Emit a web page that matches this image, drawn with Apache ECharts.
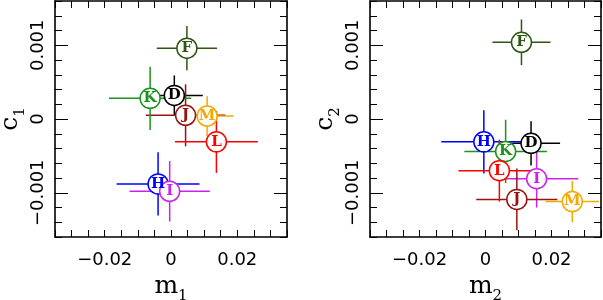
<!DOCTYPE html>
<html>
<head>
<meta charset="utf-8">
<script src="https://cdn.jsdelivr.net/npm/echarts@6/dist/echarts.min.js"></script>
<style>html,body{margin:0;padding:0;background:#fff;}#c{width:603px;height:300px;}</style>
</head>
<body>
<div id="c"></div>
<script>
// ---- data ----
const letters = ['D', 'F', 'H', 'I', 'J', 'K', 'L', 'M'];
// left panel: m1, c1 with errors
const m1 = [0.0010, 0.0048, -0.0039, -0.0004, 0.0044, -0.0063, 0.0137, 0.0109];
const c1 = [0.00032, 0.00096, -0.00088, -0.00098, 0.00005, 0.00028, -0.00031, 0.00004];
const m1Err = [0.0086, 0.0091, 0.0125, 0.0121, 0.0120, 0.0124, 0.0125, 0.0080];
const c1Err = [0.00027, 0.00030, 0.00043, 0.00041, 0.00042, 0.00043, 0.00042, 0.00027];
// right panel: m2, c2 with errors
const m2 = [0.0138, 0.0109, -0.0005, 0.0155, 0.0095, 0.0061, 0.0042, 0.0263];
const c2 = [-0.00033, 0.00104, -0.00031, -0.00081, -0.00109, -0.00044, -0.00070, -0.00112];
const m2Err = [0.0088, 0.0088, 0.0129, 0.0126, 0.0123, 0.0125, 0.0124, 0.0081];
const c2Err = [0.00030, 0.00031, 0.00043, 0.00039, 0.00042, 0.00043, 0.00042, 0.00028];
// tick labels
const xTickValues = [-0.02, 0, 0.02];
const xTickLabels = ['\u22120.02', '0', '0.02'];
const yTickValues = [-0.001, 0, 0.001];
const yTickLabels = ['\u22120.001', '0', '0.001'];
// axis titles (main letter + subscript)
const xTitles = [['m', '1'], ['m', '2']];
const yTitles = [['c', '1'], ['c', '2']];

// ---- styles ----
const colors = ['#000000', '#2e5612', '#0000ff', '#cc22ee', '#9b1111', '#1a931a', '#ff0000', '#f5a800'];
const X_MIN = -0.035, X_MAX = 0.035, Y_MIN = -0.0016, Y_MAX = 0.0016;
const LINE = {lineStyle: {color: '#000', width: 1.6}, onZero: false};
const TICK = {inside: true, length: 7, lineStyle: {color: '#000', width: 1}};
const tickFont = {fontFamily: 'DejaVu Sans', fontSize: 18, color: '#000'};
const nameFont = {
  color: '#000',
  rich: {
    a: {fontFamily: 'DejaVu Serif', fontSize: 25, lineHeight: 25, verticalAlign: 'bottom', padding: [0, 0, 5, 0], color: '#000'},
    b: {fontFamily: 'DejaVu Serif', fontSize: 15, lineHeight: 15, verticalAlign: 'bottom', color: '#000'}
  }
};

const grids = [
  {left: 55, top: 1, width: 232, height: 236, containLabel: false, outerBoundsMode: 'none'},
  {left: 370, top: 1, width: 231, height: 236, containLabel: false, outerBoundsMode: 'none'}
];

const xAxes = [], yAxes = [];
function addAxes(g, xName, yName) {
  const base = {gridIndex: g, type: 'value', min: X_MIN, max: X_MAX, splitLine: {show: false}};
  xAxes.push(Object.assign({}, base, {position: 'bottom', interval: 0.005, axisLine: LINE, axisTick: TICK, axisLabel: {show: false}}));
  xAxes.push(Object.assign({}, base, {position: 'top', interval: 0.005, axisLine: LINE, axisTick: TICK, axisLabel: {show: false}}));
  xAxes.push(Object.assign({}, base, {
    position: 'bottom', axisLine: {show: false, onZero: false}, axisTick: {show: false},
    axisLabel: Object.assign({customValues: xTickValues, margin: 14,
      formatter: v => xTickLabels[xTickValues.findIndex(t => Math.abs(t - v) < 1e-9)]}, tickFont),
    name: '{a|' + xName[0] + '}{b|' + xName[1] + '}', nameLocation: 'middle', nameGap: 30, nameTextStyle: nameFont
  }));
  const ybase = {gridIndex: g, type: 'value', min: Y_MIN, max: Y_MAX, splitLine: {show: false}};
  yAxes.push(Object.assign({}, ybase, {position: 'left', interval: 0.0002, axisLine: LINE, axisTick: TICK, axisLabel: {show: false}}));
  yAxes.push(Object.assign({}, ybase, {position: 'right', interval: 0.0002, axisLine: LINE, axisTick: TICK, axisLabel: {show: false}}));
  yAxes.push(Object.assign({}, ybase, {
    position: 'left', axisLine: {show: false, onZero: false},
    axisTick: {inside: true, length: 13, customValues: yTickValues, lineStyle: {color: '#000', width: 1}},
    axisLabel: Object.assign({customValues: yTickValues, rotate: 90, margin: 8,
      formatter: v => yTickLabels[yTickValues.findIndex(t => Math.abs(t - v) < 1e-12)]}, tickFont),
    name: '{a|' + yName[0] + '}{b|' + yName[1] + '}', nameLocation: 'middle', nameRotate: 90, nameGap: 26, nameTextStyle: nameFont
  }));
  yAxes.push(Object.assign({}, ybase, {
    position: 'right', axisLine: {show: false, onZero: false},
    axisTick: {inside: true, length: 13, customValues: yTickValues, lineStyle: {color: '#000', width: 1}},
    axisLabel: {show: false}
  }));
}
addAxes(0, xTitles[0], yTitles[0]);
addAxes(1, xTitles[1], yTitles[1]);

function errorSeries(g, xs, ys, exs, eys) {
  return {
    type: 'custom', xAxisIndex: g * 3, yAxisIndex: g * 4, clip: true, z: 2,
    data: xs.map((x, i) => [x, ys[i], exs[i], eys[i]]),
    renderItem: function (params, api) {
      const x = api.value(0), y = api.value(1), ex = api.value(2), ey = api.value(3);
      const a = api.coord([x - ex, y]), b = api.coord([x + ex, y]);
      const c = api.coord([x, y - ey]), d = api.coord([x, y + ey]);
      const st = {stroke: colors[params.dataIndex], lineWidth: 1.5};
      return {type: 'group', children: [
        {type: 'line', shape: {x1: a[0], y1: a[1], x2: b[0], y2: b[1]}, style: st},
        {type: 'line', shape: {x1: c[0], y1: c[1], x2: d[0], y2: d[1]}, style: st}
      ]};
    }
  };
}
function pointSeries(g, xs, ys) {
  return {
    type: 'scatter', xAxisIndex: g * 3, yAxisIndex: g * 4, z: 3,
    symbol: 'circle', symbolSize: 20,
    data: xs.map((x, i) => ({
      value: [x, ys[i]],
      itemStyle: {color: '#fff', borderColor: colors[i], borderWidth: 1.5, opacity: 1},
      label: {color: colors[i]}
    })),
    itemStyle: {opacity: 1},
    label: {show: true, position: 'inside', formatter: p => letters[p.dataIndex],
      fontFamily: 'DejaVu Serif', fontWeight: 'bold', fontSize: 15},
    emphasis: {disabled: true}
  };
}

const chart = echarts.init(document.getElementById('c'), null, {renderer: 'canvas'});
chart.setOption({
  animation: false,
  backgroundColor: '#fff',
  grid: grids,
  xAxis: xAxes,
  yAxis: yAxes,
  series: [
    errorSeries(0, m1, c1, m1Err, c1Err),
    errorSeries(1, m2, c2, m2Err, c2Err),
    pointSeries(0, m1, c1),
    pointSeries(1, m2, c2)
  ]
});
</script>
</body>
</html>
